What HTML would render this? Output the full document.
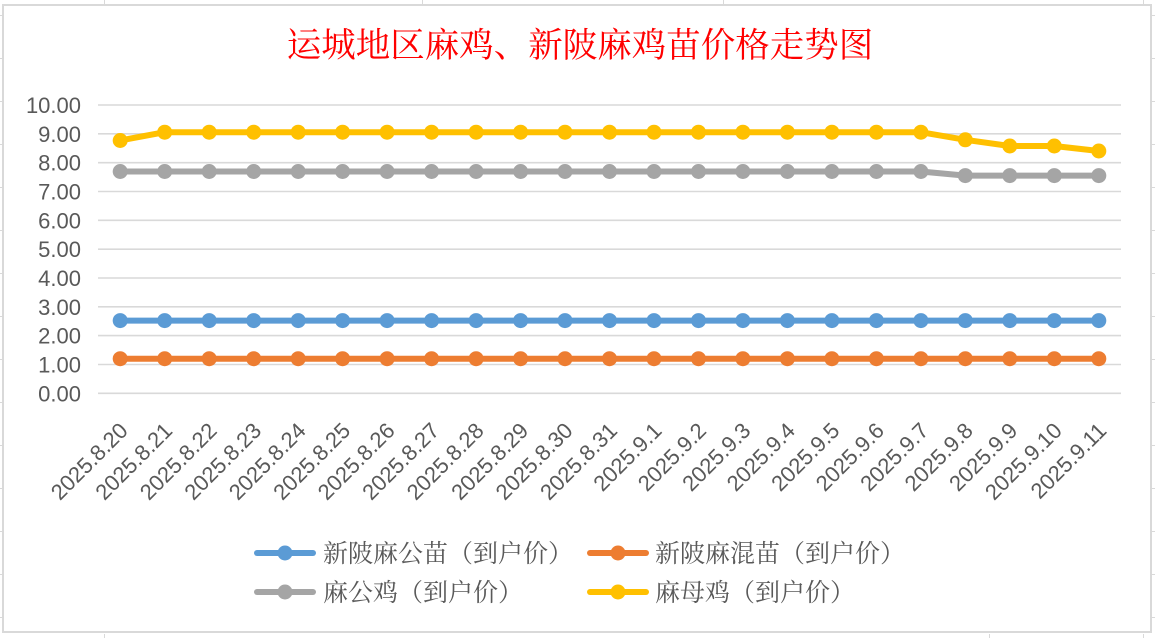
<!DOCTYPE html>
<html>
<head>
<meta charset="utf-8">
<style>
  html,body{margin:0;padding:0;background:#fff;}
  svg{display:block;}
  .yl{font-family:"Liberation Sans",sans-serif;font-size:22px;fill:#595959;text-anchor:end;}
  .xl{font-family:"Liberation Sans",sans-serif;font-size:22px;fill:#595959;text-anchor:end;}
  .lg{font-family:"Liberation Serif","Noto Serif CJK SC",serif;font-size:25px;fill:#595959;}
  .tt{font-family:"Liberation Serif","Noto Serif CJK SC",serif;font-size:34.5px;fill:#ff0000;text-anchor:middle;}
</style>
</head>
<body>
<svg width="1155" height="638" viewBox="0 0 1155 638" xmlns="http://www.w3.org/2000/svg">
  <rect x="0" y="0" width="1155" height="638" fill="#fff"/>
  <g stroke="#d9d9d9" stroke-width="1">
    <line x1="104.5" y1="0" x2="104.5" y2="4"/>
    <line x1="422.5" y1="0" x2="422.5" y2="4"/>
    <line x1="723.5" y1="0" x2="723.5" y2="4"/>
    <line x1="1143.5" y1="0" x2="1143.5" y2="4"/>
    <line x1="104.5" y1="634" x2="104.5" y2="638"/>
    <line x1="989.5" y1="634" x2="989.5" y2="638"/>
    <line x1="1143.5" y1="634" x2="1143.5" y2="638"/>
    <line x1="0" y1="15.5" x2="2" y2="15.5"/><line x1="1152" y1="15.5" x2="1155" y2="15.5"/>
    <line x1="0" y1="58.5" x2="2" y2="58.5"/><line x1="1152" y1="58.5" x2="1155" y2="58.5"/>
    <line x1="0" y1="101.5" x2="2" y2="101.5"/><line x1="1152" y1="101.5" x2="1155" y2="101.5"/>
    <line x1="0" y1="144.5" x2="2" y2="144.5"/><line x1="1152" y1="144.5" x2="1155" y2="144.5"/>
    <line x1="0" y1="187.5" x2="2" y2="187.5"/><line x1="1152" y1="187.5" x2="1155" y2="187.5"/>
    <line x1="0" y1="230.5" x2="2" y2="230.5"/><line x1="1152" y1="230.5" x2="1155" y2="230.5"/>
    <line x1="0" y1="273.5" x2="2" y2="273.5"/><line x1="1152" y1="273.5" x2="1155" y2="273.5"/>
    <line x1="0" y1="316.5" x2="2" y2="316.5"/><line x1="1152" y1="316.5" x2="1155" y2="316.5"/>
    <line x1="0" y1="359.5" x2="2" y2="359.5"/><line x1="1152" y1="359.5" x2="1155" y2="359.5"/>
    <line x1="0" y1="402.5" x2="2" y2="402.5"/><line x1="1152" y1="402.5" x2="1155" y2="402.5"/>
    <line x1="0" y1="445.5" x2="2" y2="445.5"/><line x1="1152" y1="445.5" x2="1155" y2="445.5"/>
    <line x1="0" y1="488.5" x2="2" y2="488.5"/><line x1="1152" y1="488.5" x2="1155" y2="488.5"/>
    <line x1="0" y1="531.5" x2="2" y2="531.5"/><line x1="1152" y1="531.5" x2="1155" y2="531.5"/>
    <line x1="0" y1="574.5" x2="2" y2="574.5"/><line x1="1152" y1="574.5" x2="1155" y2="574.5"/>
    <line x1="0" y1="617.5" x2="2" y2="617.5"/><line x1="1152" y1="617.5" x2="1155" y2="617.5"/>
  </g>
  <rect x="3" y="5" width="1148" height="627" fill="#fff" stroke="#d9d9d9" stroke-width="2"/>

  <text class="tt" x="580" y="57">运城地区麻鸡、新陂麻鸡苗价格走势图</text>

  <g stroke="#d9d9d9" stroke-width="1.6">
    <line x1="98" y1="105" x2="1121" y2="105"/>
    <line x1="98" y1="133.8" x2="1121" y2="133.8"/>
    <line x1="98" y1="162.7" x2="1121" y2="162.7"/>
    <line x1="98" y1="191.5" x2="1121" y2="191.5"/>
    <line x1="98" y1="220.3" x2="1121" y2="220.3"/>
    <line x1="98" y1="249.2" x2="1121" y2="249.2"/>
    <line x1="98" y1="278" x2="1121" y2="278"/>
    <line x1="98" y1="306.8" x2="1121" y2="306.8"/>
    <line x1="98" y1="335.6" x2="1121" y2="335.6"/>
    <line x1="98" y1="364.5" x2="1121" y2="364.5"/>
    <line x1="98" y1="393.3" x2="1121" y2="393.3"/>
  </g>

  <text class="yl" x="81" y="113">10.00</text>
  <text class="yl" x="81" y="141.8">9.00</text>
  <text class="yl" x="81" y="170.7">8.00</text>
  <text class="yl" x="81" y="199.5">7.00</text>
  <text class="yl" x="81" y="228.3">6.00</text>
  <text class="yl" x="81" y="257.2">5.00</text>
  <text class="yl" x="81" y="286">4.00</text>
  <text class="yl" x="81" y="314.8">3.00</text>
  <text class="yl" x="81" y="343.6">2.00</text>
  <text class="yl" x="81" y="372.5">1.00</text>
  <text class="yl" x="81" y="401.3">0.00</text>

  <g>
    <text class="xl" transform="translate(129.2,432) rotate(-45)">2025.8.20</text>
    <text class="xl" transform="translate(173.7,432) rotate(-45)">2025.8.21</text>
    <text class="xl" transform="translate(218.2,432) rotate(-45)">2025.8.22</text>
    <text class="xl" transform="translate(262.7,432) rotate(-45)">2025.8.23</text>
    <text class="xl" transform="translate(307.2,432) rotate(-45)">2025.8.24</text>
    <text class="xl" transform="translate(351.6,432) rotate(-45)">2025.8.25</text>
    <text class="xl" transform="translate(396.1,432) rotate(-45)">2025.8.26</text>
    <text class="xl" transform="translate(440.6,432) rotate(-45)">2025.8.27</text>
    <text class="xl" transform="translate(485.1,432) rotate(-45)">2025.8.28</text>
    <text class="xl" transform="translate(529.6,432) rotate(-45)">2025.8.29</text>
    <text class="xl" transform="translate(574,432) rotate(-45)">2025.8.30</text>
    <text class="xl" transform="translate(618.5,432) rotate(-45)">2025.8.31</text>
    <text class="xl" transform="translate(663,432) rotate(-45)">2025.9.1</text>
    <text class="xl" transform="translate(707.5,432) rotate(-45)">2025.9.2</text>
    <text class="xl" transform="translate(751.9,432) rotate(-45)">2025.9.3</text>
    <text class="xl" transform="translate(796.4,432) rotate(-45)">2025.9.4</text>
    <text class="xl" transform="translate(840.9,432) rotate(-45)">2025.9.5</text>
    <text class="xl" transform="translate(885.4,432) rotate(-45)">2025.9.6</text>
    <text class="xl" transform="translate(929.9,432) rotate(-45)">2025.9.7</text>
    <text class="xl" transform="translate(974.3,432) rotate(-45)">2025.9.8</text>
    <text class="xl" transform="translate(1018.8,432) rotate(-45)">2025.9.9</text>
    <text class="xl" transform="translate(1063.3,432) rotate(-45)">2025.9.10</text>
    <text class="xl" transform="translate(1107.8,432) rotate(-45)">2025.9.11</text>
  </g>

  <g>
    <polyline fill="none" stroke="#5b9bd5" stroke-width="6" stroke-linejoin="round" stroke-linecap="round"
      points="120.2,320.6 1098.8,320.6"/>
    <g fill="#5b9bd5">
      <circle cx="120.2" cy="320.6" r="7.5"/><circle cx="164.7" cy="320.6" r="7.5"/><circle cx="209.2" cy="320.6" r="7.5"/>
      <circle cx="253.7" cy="320.6" r="7.5"/><circle cx="298.2" cy="320.6" r="7.5"/><circle cx="342.6" cy="320.6" r="7.5"/>
      <circle cx="387.1" cy="320.6" r="7.5"/><circle cx="431.6" cy="320.6" r="7.5"/><circle cx="476.1" cy="320.6" r="7.5"/>
      <circle cx="520.6" cy="320.6" r="7.5"/><circle cx="565" cy="320.6" r="7.5"/><circle cx="609.5" cy="320.6" r="7.5"/>
      <circle cx="654" cy="320.6" r="7.5"/><circle cx="698.5" cy="320.6" r="7.5"/><circle cx="742.9" cy="320.6" r="7.5"/>
      <circle cx="787.4" cy="320.6" r="7.5"/><circle cx="831.9" cy="320.6" r="7.5"/><circle cx="876.4" cy="320.6" r="7.5"/>
      <circle cx="920.9" cy="320.6" r="7.5"/><circle cx="965.3" cy="320.6" r="7.5"/><circle cx="1009.8" cy="320.6" r="7.5"/>
      <circle cx="1054.3" cy="320.6" r="7.5"/><circle cx="1098.8" cy="320.6" r="7.5"/>
    </g>
  </g>

  <g>
    <polyline fill="none" stroke="#ed7d31" stroke-width="6" stroke-linejoin="round" stroke-linecap="round"
      points="120.2,358.7 1098.8,358.7"/>
    <g fill="#ed7d31">
      <circle cx="120.2" cy="358.7" r="7.5"/><circle cx="164.7" cy="358.7" r="7.5"/><circle cx="209.2" cy="358.7" r="7.5"/>
      <circle cx="253.7" cy="358.7" r="7.5"/><circle cx="298.2" cy="358.7" r="7.5"/><circle cx="342.6" cy="358.7" r="7.5"/>
      <circle cx="387.1" cy="358.7" r="7.5"/><circle cx="431.6" cy="358.7" r="7.5"/><circle cx="476.1" cy="358.7" r="7.5"/>
      <circle cx="520.6" cy="358.7" r="7.5"/><circle cx="565" cy="358.7" r="7.5"/><circle cx="609.5" cy="358.7" r="7.5"/>
      <circle cx="654" cy="358.7" r="7.5"/><circle cx="698.5" cy="358.7" r="7.5"/><circle cx="742.9" cy="358.7" r="7.5"/>
      <circle cx="787.4" cy="358.7" r="7.5"/><circle cx="831.9" cy="358.7" r="7.5"/><circle cx="876.4" cy="358.7" r="7.5"/>
      <circle cx="920.9" cy="358.7" r="7.5"/><circle cx="965.3" cy="358.7" r="7.5"/><circle cx="1009.8" cy="358.7" r="7.5"/>
      <circle cx="1054.3" cy="358.7" r="7.5"/><circle cx="1098.8" cy="358.7" r="7.5"/>
    </g>
  </g>

  <g>
    <polyline fill="none" stroke="#a5a5a5" stroke-width="6" stroke-linejoin="round" stroke-linecap="round"
      points="120.2,171.5 920.9,171.5 965.3,175.6 1098.8,175.6"/>
    <g fill="#a5a5a5">
      <circle cx="120.2" cy="171.5" r="7.5"/><circle cx="164.7" cy="171.5" r="7.5"/><circle cx="209.2" cy="171.5" r="7.5"/>
      <circle cx="253.7" cy="171.5" r="7.5"/><circle cx="298.2" cy="171.5" r="7.5"/><circle cx="342.6" cy="171.5" r="7.5"/>
      <circle cx="387.1" cy="171.5" r="7.5"/><circle cx="431.6" cy="171.5" r="7.5"/><circle cx="476.1" cy="171.5" r="7.5"/>
      <circle cx="520.6" cy="171.5" r="7.5"/><circle cx="565" cy="171.5" r="7.5"/><circle cx="609.5" cy="171.5" r="7.5"/>
      <circle cx="654" cy="171.5" r="7.5"/><circle cx="698.5" cy="171.5" r="7.5"/><circle cx="742.9" cy="171.5" r="7.5"/>
      <circle cx="787.4" cy="171.5" r="7.5"/><circle cx="831.9" cy="171.5" r="7.5"/><circle cx="876.4" cy="171.5" r="7.5"/>
      <circle cx="920.9" cy="171.5" r="7.5"/><circle cx="965.3" cy="175.6" r="7.5"/><circle cx="1009.8" cy="175.6" r="7.5"/>
      <circle cx="1054.3" cy="175.6" r="7.5"/><circle cx="1098.8" cy="175.6" r="7.5"/>
    </g>
  </g>

  <g>
    <polyline fill="none" stroke="#ffc000" stroke-width="6" stroke-linejoin="round" stroke-linecap="round"
      points="120.2,140.5 164.7,132.2 920.9,132.2 965.3,139.8 1009.8,146 1054.3,146 1098.8,151"/>
    <g fill="#ffc000">
      <circle cx="120.2" cy="140.5" r="7.5"/><circle cx="164.7" cy="132.2" r="7.5"/><circle cx="209.2" cy="132.2" r="7.5"/>
      <circle cx="253.7" cy="132.2" r="7.5"/><circle cx="298.2" cy="132.2" r="7.5"/><circle cx="342.6" cy="132.2" r="7.5"/>
      <circle cx="387.1" cy="132.2" r="7.5"/><circle cx="431.6" cy="132.2" r="7.5"/><circle cx="476.1" cy="132.2" r="7.5"/>
      <circle cx="520.6" cy="132.2" r="7.5"/><circle cx="565" cy="132.2" r="7.5"/><circle cx="609.5" cy="132.2" r="7.5"/>
      <circle cx="654" cy="132.2" r="7.5"/><circle cx="698.5" cy="132.2" r="7.5"/><circle cx="742.9" cy="132.2" r="7.5"/>
      <circle cx="787.4" cy="132.2" r="7.5"/><circle cx="831.9" cy="132.2" r="7.5"/><circle cx="876.4" cy="132.2" r="7.5"/>
      <circle cx="920.9" cy="132.2" r="7.5"/><circle cx="965.3" cy="139.8" r="7.5"/><circle cx="1009.8" cy="146" r="7.5"/>
      <circle cx="1054.3" cy="146" r="7.5"/><circle cx="1098.8" cy="151" r="7.5"/>
    </g>
  </g>

  <g>
    <line x1="257" y1="553" x2="313" y2="553" stroke="#5b9bd5" stroke-width="6" stroke-linecap="round"/>
    <circle cx="285" cy="553" r="7.5" fill="#5b9bd5"/>
    <text class="lg" x="323" y="562">新陂麻公苗（到户价）</text>

    <line x1="590" y1="553" x2="646" y2="553" stroke="#ed7d31" stroke-width="6" stroke-linecap="round"/>
    <circle cx="618" cy="553" r="7.5" fill="#ed7d31"/>
    <text class="lg" x="655" y="562">新陂麻混苗（到户价）</text>

    <line x1="257" y1="592" x2="313" y2="592" stroke="#a5a5a5" stroke-width="6" stroke-linecap="round"/>
    <circle cx="285" cy="592" r="7.5" fill="#a5a5a5"/>
    <text class="lg" x="323" y="601">麻公鸡（到户价）</text>

    <line x1="590" y1="592" x2="646" y2="592" stroke="#ffc000" stroke-width="6" stroke-linecap="round"/>
    <circle cx="618" cy="592" r="7.5" fill="#ffc000"/>
    <text class="lg" x="655" y="601">麻母鸡（到户价）</text>
  </g>
</svg>
</body>
</html>
